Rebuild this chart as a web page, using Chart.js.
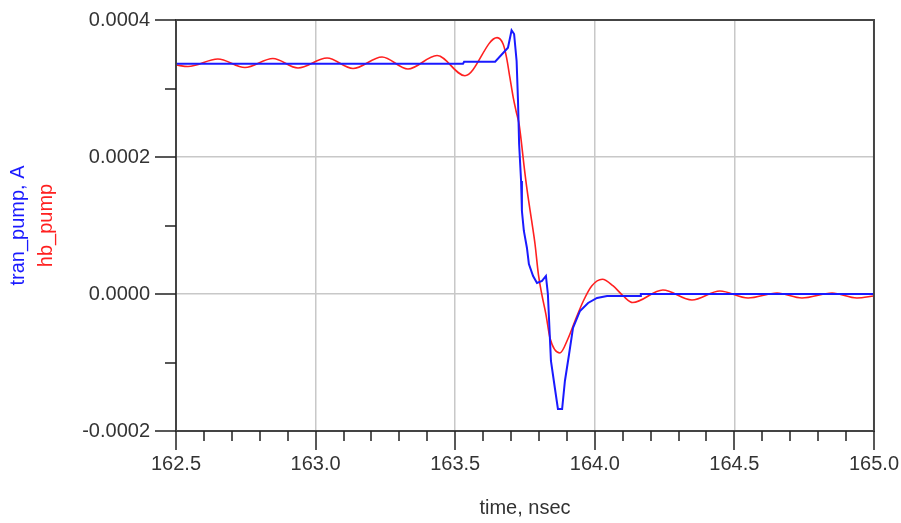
<!DOCTYPE html>
<html>
<head>
<meta charset="utf-8">
<script src="https://cdn.jsdelivr.net/npm/chart.js@4"></script>
<style>
  html, body { margin: 0; padding: 0; background: #fff; }
  #wrap { width: 901px; height: 523px; }
</style>
</head>
<body>
<div id="wrap"><canvas id="pumpChart" width="901" height="523"></canvas></div>
<script>
// time axis, nsec
const timeBlue = [162.500, 163.528, 163.532, 163.643, 163.689, 163.702, 163.711, 163.720, 163.725, 163.729,
  163.736, 163.739, 163.746, 163.757, 163.764, 163.779, 163.793, 163.811, 163.825, 163.832,
  163.843, 163.857, 163.868, 163.883, 163.893, 163.908, 163.922, 163.947, 163.976, 164.008,
  164.044, 164.162, 164.165, 165.000];
// tran_pump, A
const tranPump = [3.362e-4, 3.362e-4, 3.391e-4, 3.391e-4, 3.596e-4, 3.850e-4, 3.796e-4, 3.401e-4, 2.818e-4, 2.190e-4,
  1.650e-4, 1.212e-4, 0.920e-4, 0.672e-4, 0.438e-4, 0.263e-4, 0.161e-4, 0.190e-4, 0.263e-4, 0,
  -0.978e-4, -1.372e-4, -1.679e-4, -1.679e-4, -1.270e-4, -0.876e-4, -0.496e-4, -0.248e-4, -0.131e-4, -0.058e-4,
  -0.029e-4, -0.029e-4, 0, 0];

const timeRed = [162.500, 162.543, 162.650, 162.747, 162.847, 162.937, 163.041, 163.134, 163.238, 163.331,
  163.435, 163.535, 163.650, 163.672, 163.684, 163.696, 163.708, 163.718, 163.729, 163.738,
  163.746, 163.758, 163.774, 163.786, 163.798, 163.810, 163.825, 163.840, 163.875,
  163.905, 163.929, 163.959, 163.989, 164.027, 164.066, 164.102, 164.136, 164.244, 164.348,
  164.448, 164.549, 164.653, 164.742, 164.850, 164.939, 165.000];
// hb_pump
const hbPump = [3.343e-4, 3.321e-4, 3.431e-4, 3.307e-4, 3.438e-4, 3.299e-4, 3.445e-4, 3.292e-4, 3.460e-4, 3.285e-4,
  3.482e-4, 3.187e-4, 3.742e-4, 3.645e-4, 3.450e-4, 3.158e-4, 2.866e-4, 2.672e-4, 2.477e-4, 2.185e-4,
  1.893e-4, 1.504e-4, 1.066e-4, 0.726e-4, 0.288e-4, 0, -0.296e-4, -0.650e-4, -0.861e-4,
  -0.642e-4, -0.394e-4, -0.102e-4, 0.117e-4, 0.215e-4, 0.117e-4, -0.029e-4, -0.125e-4, 0.058e-4, -0.088e-4,
  0.044e-4, -0.058e-4, 0.015e-4, -0.058e-4, 0.015e-4, -0.058e-4, -0.029e-4];

const xMin = 162.5, xMax = 165.0, xStep = 0.1;
const yMin = -0.0002, yMax = 0.0004, yStep = 0.0001;

const FONT = "'Liberation Sans', Arial, sans-serif";
const TEXT = "#333";

function isMajorX(v) { return Math.abs(v * 2 - Math.round(v * 2)) < 1e-6; }
function isMajorY(v) { return Math.round(v * 1e4) % 2 === 0; }

// frame, axis lines, tick marks and the two-colour y title
const framePlugin = {
  id: "frame",
  afterDraw(chart) {
    const ctx = chart.ctx;
    const a = chart.chartArea;
    const xs = chart.scales.x, ys = chart.scales.y;
    ctx.save();
    ctx.strokeStyle = "#444";
    ctx.lineWidth = 2;
    ctx.beginPath();
    ctx.rect(a.left, a.top, a.right - a.left, a.bottom - a.top);
    ctx.stroke();

    ctx.strokeStyle = "#222";
    ctx.lineWidth = 1.5;
    ctx.beginPath();
    xs.ticks.forEach(t => {
      const px = Math.round(xs.getPixelForValue(t.value));
      const len = isMajorX(t.value) ? 19 : 10;
      ctx.moveTo(px, a.bottom);
      ctx.lineTo(px, a.bottom + len);
    });
    ys.ticks.forEach(t => {
      const py = Math.round(ys.getPixelForValue(t.value));
      const len = isMajorY(t.value) ? 21 : 11;
      ctx.moveTo(a.left, py);
      ctx.lineTo(a.left - len, py);
    });
    ctx.stroke();

    const cy = (a.top + a.bottom) / 2;
    ctx.font = "20px " + FONT;
    ctx.textAlign = "center";
    ctx.textBaseline = "middle";
    ctx.translate(18, cy);
    ctx.rotate(-Math.PI / 2);
    ctx.fillStyle = "#1a1aff";
    ctx.fillText("tran_pump, A", 0, 0);
    ctx.fillStyle = "#ff2020";
    ctx.fillText("hb_pump", 0, 28);
    ctx.restore();
  }
};

const ctx = document.getElementById("pumpChart").getContext("2d");
new Chart(ctx, {
  type: "line",
  data: {
    datasets: [
      {
        label: "tran_pump",
        data: timeBlue.map((t, i) => ({ x: t, y: tranPump[i] })),
        borderColor: "#1a1aff",
        borderWidth: 2,
        pointRadius: 0,
        tension: 0,
        fill: false
      },
      {
        label: "hb_pump",
        data: timeRed.map((t, i) => ({ x: t, y: hbPump[i] })),
        borderColor: "#ff2020",
        borderWidth: 1.6,
        pointRadius: 0,
        cubicInterpolationMode: "monotone",
        fill: false
      }
    ]
  },
  options: {
    responsive: false,
    animation: false,
    layout: { padding: { top: 20, right: 27, left: 0, bottom: 0 } },
    plugins: {
      legend: { display: false },
      tooltip: { enabled: false }
    },
    scales: {
      x: {
        type: "linear",
        min: xMin, max: xMax,
        afterFit(scale) { scale.height = 92; },
        border: { display: false },
        grid: {
          color: c => (c.tick && isMajorX(c.tick.value) && c.tick.value > xMin + 1e-6 && c.tick.value < xMax - 1e-6) ? "#c8c8c8" : "rgba(0,0,0,0)",
          lineWidth: 1.5,
          tickLength: 19,
          tickColor: "rgba(0,0,0,0)"
        },
        ticks: {
          stepSize: xStep,
          autoSkip: false,
          maxRotation: 0,
          padding: 2,
          color: TEXT,
          font: { family: FONT, size: 20 },
          callback: v => isMajorX(v) ? v.toFixed(1) : ""
        },
        title: {
          display: true,
          text: "time, nsec",
          color: TEXT,
          font: { family: FONT, size: 20 },
          padding: { top: 0, bottom: 3 }
        }
      },
      y: {
        type: "linear",
        min: yMin, max: yMax,
        afterFit(scale) { scale.width = 176; },
        border: { display: false },
        grid: {
          color: c => (c.tick && isMajorY(c.tick.value) && c.tick.value > yMin + 1e-9 && c.tick.value < yMax - 1e-9) ? "#c8c8c8" : "rgba(0,0,0,0)",
          lineWidth: 1.5,
          tickLength: 21,
          tickColor: "rgba(0,0,0,0)"
        },
        ticks: {
          stepSize: yStep,
          autoSkip: false,
          padding: 5,
          color: TEXT,
          font: { family: FONT, size: 20 },
          callback: v => isMajorY(v) ? v.toFixed(4) : ""
        }
      }
    }
  },
  plugins: [framePlugin]
});
</script>
</body>
</html>
